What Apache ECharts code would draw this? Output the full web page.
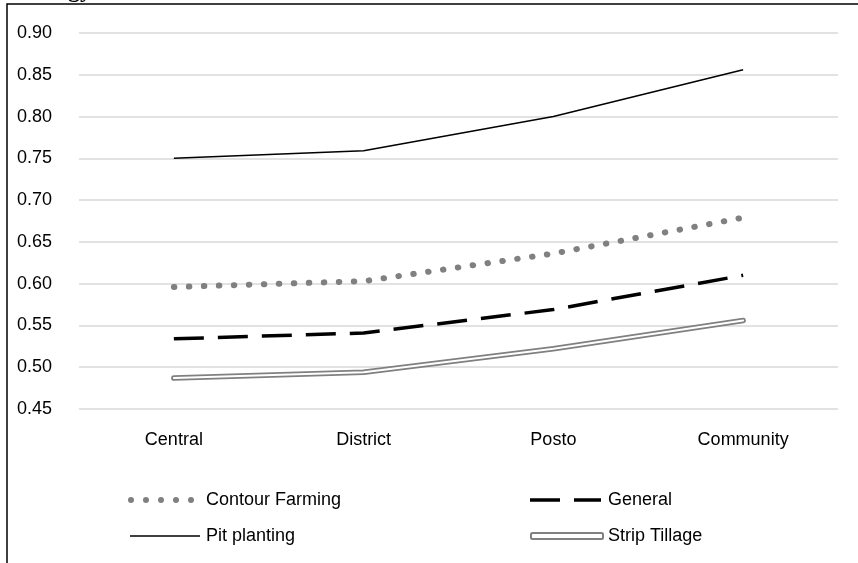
<!DOCTYPE html>
<html>
<head>
<meta charset="utf-8">
<script src="https://cdn.jsdelivr.net/npm/echarts@6/dist/echarts.min.js"></script>
<style>html,body{margin:0;padding:0;background:#fff;}#c{width:858px;height:563px;}</style>
</head>
<body>
<div id="c"></div>
<script>
const categories = ['Central', 'District', 'Posto', 'Community'];
const contourFarming = [0.596, 0.603, 0.636, 0.679];
const general = [0.534, 0.541, 0.569, 0.610];
const pitPlanting = [0.750, 0.759, 0.800, 0.856];
const stripTillage = [0.487, 0.494, 0.522, 0.556];
const yTicks = { min: 0.45, max: 0.90, interval: 0.05 };

const chart = echarts.init(document.getElementById('c'), null, { renderer: 'canvas' });
const font = 'Liberation Sans, Arial, sans-serif';
const legendText = { fontSize: 18, color: '#000', fontFamily: font };

function dot(cx) { return 'M' + (cx - 3) + ',3a3,3 0 1,0 6,0a3,3 0 1,0 -6,0z'; }
const dotsIcon = 'path://' + [3, 18, 33, 48, 63].map(dot).join(' ');
const dashIcon = 'path://M0,0h30v3.5h-30z M44,0h27v3.5h-27z';
const solidIcon = 'path://M0,0h70v1.5h-70z';

const option = {
  animation: false,
  backgroundColor: '#fff',
  graphic: [
    { type: 'rect', shape: { x: 7, y: 4, width: 900, height: 600 }, style: { fill: 'none', stroke: '#000', lineWidth: 1.5 }, z: 100 },
    { type: 'text', left: 68, top: -21, style: { text: 'gy', font: 'bold 24px "Liberation Serif", serif', fill: '#000' }, z: 100 }
  ],
  grid: { left: 79, right: 20, top: 33, bottom: 154, containLabel: false },
  xAxis: {
    type: 'category',
    data: categories,
    boundaryGap: true,
    axisLine: { show: false },
    axisTick: { show: false },
    axisLabel: { fontSize: 18, color: '#000', fontFamily: font, margin: 22 }
  },
  yAxis: {
    type: 'value',
    min: yTicks.min, max: yTicks.max, interval: yTicks.interval,
    axisLine: { show: false },
    axisTick: { show: false },
    splitLine: { lineStyle: { color: '#d9d9d9', width: 1.5 } },
    axisLabel: { fontSize: 18, color: '#000', fontFamily: font, margin: 27, formatter: v => v.toFixed(2) }
  },
  legend: [
    { left: 128, top: 491, padding: 0, itemWidth: 66, itemHeight: 6, textStyle: Object.assign({ padding: [0, 0, 0, 7] }, legendText),
      data: [{ name: 'Contour Farming', icon: dotsIcon, itemStyle: { color: '#808080' } }] },
    { left: 130, top: 527, padding: 0, itemWidth: 70, itemHeight: 1.5, textStyle: Object.assign({ padding: [0, 0, 0, 1] }, legendText),
      data: [{ name: 'Pit planting', icon: solidIcon, itemStyle: { color: '#000' } }] },
    { left: 530, top: 491, padding: 0, itemWidth: 71, itemHeight: 3.5, textStyle: Object.assign({ padding: [0, 0, 0, 2] }, legendText),
      data: [{ name: 'General', icon: dashIcon, itemStyle: { color: '#000' } }] },
    { left: 530, top: 527, padding: 0, itemWidth: 72, itemHeight: 6, textStyle: legendText,
      data: [{ name: 'Strip Tillage', icon: 'roundRect', itemStyle: { color: '#fff', borderColor: '#808080', borderWidth: 2 } }] }
  ],
  series: [
    { name: 'Contour Farming', type: 'line', data: contourFarming, symbol: 'none', color: '#808080',
      lineStyle: { color: '#808080', width: 6, type: [0.5, 14.5], cap: 'round' } },
    { name: 'General', type: 'line', data: general, symbol: 'none', color: '#000',
      lineStyle: { color: '#000', width: 3.5, type: [30, 14], cap: 'butt' } },
    { name: 'Pit planting', type: 'line', data: pitPlanting, symbol: 'none', color: '#000',
      lineStyle: { color: '#000', width: 1.5 } },
    { name: 'Strip Tillage', type: 'line', data: stripTillage, symbol: 'none', color: '#808080',
      lineStyle: { color: '#808080', width: 5.5, cap: 'round', join: 'round' } },
    { name: 'Strip Tillage inner', type: 'line', data: stripTillage, symbol: 'none', color: '#fff', z: 3,
      lineStyle: { color: '#fff', width: 2, cap: 'round', join: 'round' } }
  ]
};
chart.setOption(option);
</script>
</body>
</html>
